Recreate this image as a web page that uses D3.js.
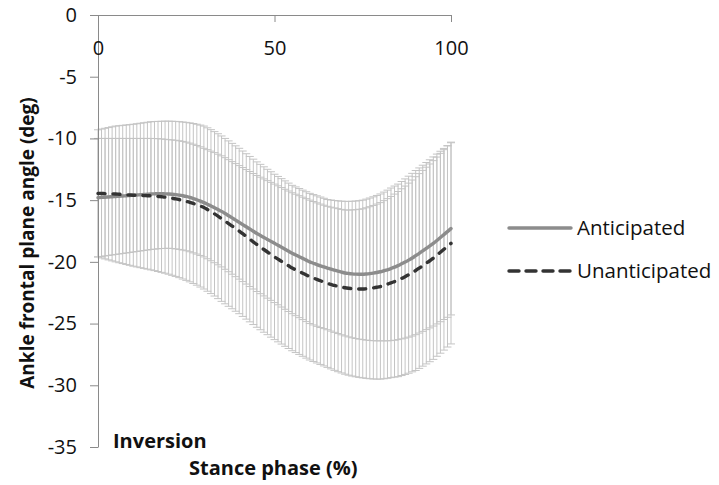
<!DOCTYPE html>
<html>
<head>
<meta charset="utf-8">
<script src="https://cdn.jsdelivr.net/npm/d3@7"></script>
<style>
  body { margin: 0; background: #fff; }
  text { font-family: "Open Sans", sans-serif; fill: #111; }
</style>
</head>
<body>
<div id="chart"></div>
<script>
// Defines dimensions of SVG
var width = 719;
var height = 485;

// Stance phase, 0..100 %
var phase = d3.range(0, 101);

// Mean ankle frontal plane angle (deg), one value per % of stance
var anticipatedMean = [
  -14.80, -14.78, -14.76, -14.74, -14.72, -14.70, -14.68, -14.66, -14.64, -14.62,
  -14.60, -14.58, -14.56, -14.54, -14.52, -14.50, -14.49, -14.48, -14.48, -14.49,
  -14.50, -14.52, -14.55, -14.59, -14.64, -14.70, -14.78, -14.87, -14.97, -15.08,
  -15.20, -15.33, -15.47, -15.61, -15.76, -15.91, -16.08, -16.26, -16.44, -16.62,
  -16.80, -16.98, -17.16, -17.34, -17.52, -17.70, -17.86, -18.02, -18.18, -18.34,
  -18.50, -18.66, -18.82, -18.98, -19.14, -19.30, -19.44, -19.58, -19.72, -19.86,
  -20.00, -20.11, -20.22, -20.32, -20.41, -20.50, -20.59, -20.67, -20.75, -20.83,
  -20.90, -20.94, -20.97, -20.99, -21.00, -21.00, -20.98, -20.95, -20.91, -20.86,
  -20.80, -20.72, -20.64, -20.54, -20.43, -20.30, -20.16, -20.02, -19.86, -19.69,
  -19.50, -19.31, -19.11, -18.91, -18.71, -18.50, -18.27, -18.03, -17.79, -17.55,
  -17.30
];
var unanticipatedMean = [
  -14.45, -14.46, -14.47, -14.48, -14.49, -14.50, -14.52, -14.54, -14.56, -14.58,
  -14.60, -14.61, -14.62, -14.63, -14.64, -14.65, -14.67, -14.70, -14.73, -14.76,
  -14.80, -14.85, -14.90, -14.96, -15.03, -15.10, -15.18, -15.27, -15.37, -15.48,
  -15.60, -15.76, -15.93, -16.11, -16.30, -16.50, -16.70, -16.90, -17.10, -17.30,
  -17.50, -17.72, -17.94, -18.16, -18.38, -18.60, -18.80, -19.00, -19.20, -19.40,
  -19.60, -19.78, -19.96, -20.14, -20.32, -20.50, -20.64, -20.78, -20.92, -21.06,
  -21.20, -21.31, -21.42, -21.53, -21.64, -21.75, -21.83, -21.91, -21.98, -22.04,
  -22.10, -22.14, -22.17, -22.19, -22.20, -22.20, -22.18, -22.15, -22.11, -22.06,
  -22.00, -21.91, -21.81, -21.70, -21.60, -21.50, -21.35, -21.20, -21.04, -20.87,
  -20.70, -20.51, -20.31, -20.11, -19.91, -19.70, -19.46, -19.22, -18.98, -18.74,
  -18.50
];

// Standard deviations (deg), drawn as +/- error bars
var anticipatedSD = [
  4.80, 4.78, 4.76, 4.74, 4.72, 4.70, 4.68, 4.66, 4.64, 4.62,
  4.60, 4.58, 4.56, 4.54, 4.52, 4.50, 4.48, 4.46, 4.44, 4.42,
  4.40, 4.40, 4.40, 4.40, 4.40, 4.40, 4.40, 4.40, 4.40, 4.40,
  4.40, 4.42, 4.44, 4.46, 4.48, 4.50, 4.52, 4.54, 4.56, 4.58,
  4.60, 4.62, 4.64, 4.66, 4.68, 4.70, 4.72, 4.74, 4.76, 4.78,
  4.80, 4.82, 4.84, 4.86, 4.88, 4.90, 4.92, 4.94, 4.96, 4.98,
  5.00, 5.00, 5.00, 5.00, 5.00, 5.00, 5.02, 5.04, 5.06, 5.08,
  5.10, 5.14, 5.18, 5.22, 5.26, 5.30, 5.36, 5.42, 5.48, 5.54,
  5.60, 5.68, 5.76, 5.84, 5.92, 6.00, 6.08, 6.16, 6.24, 6.32,
  6.40, 6.46, 6.52, 6.58, 6.64, 6.70, 6.76, 6.82, 6.88, 6.94,
  7.00
];
var unanticipatedSD = [
  5.15, 5.22, 5.29, 5.36, 5.43, 5.50, 5.55, 5.60, 5.65, 5.70,
  5.75, 5.80, 5.85, 5.90, 5.95, 6.00, 6.04, 6.08, 6.12, 6.16,
  6.20, 6.24, 6.28, 6.32, 6.36, 6.40, 6.44, 6.48, 6.52, 6.56,
  6.60, 6.62, 6.64, 6.66, 6.68, 6.70, 6.70, 6.70, 6.70, 6.70,
  6.70, 6.70, 6.70, 6.70, 6.70, 6.70, 6.70, 6.70, 6.70, 6.70,
  6.70, 6.70, 6.70, 6.70, 6.70, 6.70, 6.71, 6.72, 6.73, 6.74,
  6.75, 6.76, 6.77, 6.78, 6.79, 6.80, 6.84, 6.88, 6.92, 6.96,
  7.00, 7.04, 7.08, 7.12, 7.16, 7.20, 7.26, 7.32, 7.38, 7.44,
  7.50, 7.56, 7.62, 7.68, 7.74, 7.80, 7.86, 7.92, 7.98, 8.04,
  8.10, 8.12, 8.14, 8.16, 8.18, 8.20, 8.19, 8.18, 8.17, 8.16,
  8.15
];

// Tick labels
var xTicks = [0, 50, 100];
var yTicks = [0, -5, -10, -15, -20, -25, -30, -35];
var seriesNames = ["Anticipated", "Unanticipated"];

// Appends SVG Canvas to document body
var svg = d3.select("#chart").append("svg")
    .attr("width", width)
    .attr("height", height);

var x = d3.scaleLinear().domain([0, 100]).range([98, 451]);
var y = d3.scaleLinear().domain([-35, 0]).range([447, 15]);

var series = [
  { name: seriesNames[0], mean: anticipatedMean, sd: anticipatedSD, color: "#8c8c8c", dash: null, legendDash: null },
  { name: seriesNames[1], mean: unanticipatedMean, sd: unanticipatedSD, color: "#333333", dash: "7,8", legendDash: "10,7" }
];

var axisColor = "#8a8a8a";
var barColor = "#c4c4c4";
var capHalf = 4;

// Error bars first, so the mean lines sit on top
series.forEach(function(s) {
  var g = svg.append("g").attr("class", "errorBars");
  var pts = phase.map(function(p, i) {
    return { x: x(p), lo: y(s.mean[i] - s.sd[i]), hi: y(s.mean[i] + s.sd[i]) };
  });
  g.selectAll("line.stem").data(pts).enter().append("line")
    .attr("class", "stem")
    .attr("x1", function(d) { return d.x; })
    .attr("x2", function(d) { return d.x; })
    .attr("y1", function(d) { return d.lo; })
    .attr("y2", function(d) { return d.hi; })
    .attr("stroke", barColor)
    .attr("stroke-width", 1);
  ["lo", "hi"].forEach(function(k) {
    g.selectAll("line.cap" + k).data(pts).enter().append("line")
      .attr("class", "cap" + k)
      .attr("x1", function(d) { return d.x - capHalf; })
      .attr("x2", function(d) { return d.x + capHalf; })
      .attr("y1", function(d) { return d[k]; })
      .attr("y2", function(d) { return d[k]; })
      .attr("stroke", barColor)
      .attr("stroke-width", 1);
  });
});

// Axes
var yAxis = svg.append("g")
    .attr("transform", "translate(" + x(0) + ",0)")
    .call(d3.axisLeft(y).tickValues(yTicks).tickSize(8).tickSizeOuter(0).tickPadding(13)
      .tickFormat(function(d) { return String(d); }));

var xAxis = svg.append("g")
    .attr("transform", "translate(0," + y(0) + ")")
    .call(d3.axisBottom(x).tickValues(xTicks).tickSize(7).tickSizeOuter(0).tickPadding(19)
      .tickFormat(function(d) { return String(d); }));

[yAxis, xAxis].forEach(function(a) {
  a.selectAll("path, line").attr("stroke", axisColor);
  a.selectAll("text").style("font-size", "20px").style("font-family", "'Open Sans', sans-serif").attr("fill", "#111");
});

// Mean lines
var line = d3.line()
    .x(function(d, i) { return x(phase[i]); })
    .y(function(d) { return y(d); })
    .curve(d3.curveMonotoneX);

series.forEach(function(s) {
  svg.append("path")
    .datum(s.mean)
    .attr("d", line)
    .attr("fill", "none")
    .attr("stroke", s.color)
    .attr("stroke-width", 3.4)
    .attr("stroke-linecap", "round")
    .attr("stroke-dasharray", s.dash);
});

// Axis titles
svg.append("text")
    .attr("transform", "translate(34,243) rotate(-90)")
    .attr("text-anchor", "middle")
    .style("font-size", "19px")
    .style("font-weight", "bold")
    .text("Ankle frontal plane angle (deg)");

svg.append("text")
    .attr("x", 113).attr("y", 448)
    .style("font-size", "20px")
    .style("font-weight", "bold")
    .text("Inversion");

svg.append("text")
    .attr("x", 189).attr("y", 475)
    .style("font-size", "20px")
    .style("font-weight", "bold")
    .text("Stance phase (%)");

// Legend
var legend = svg.append("g").attr("class", "legend");
series.forEach(function(s, i) {
  var ly = 228 + i * 43;
  legend.append("line")
    .attr("x1", 509).attr("x2", 571)
    .attr("y1", ly).attr("y2", ly)
    .attr("stroke", s.color)
    .attr("stroke-width", 3.4)
    .attr("stroke-linecap", "round")
    .attr("stroke-dasharray", s.legendDash);
  legend.append("text")
    .attr("x", 577).attr("y", ly)
    .attr("dy", "0.36em")
    .style("font-size", "20.5px")
    .text(s.name);
});
</script>
</body>
</html>
